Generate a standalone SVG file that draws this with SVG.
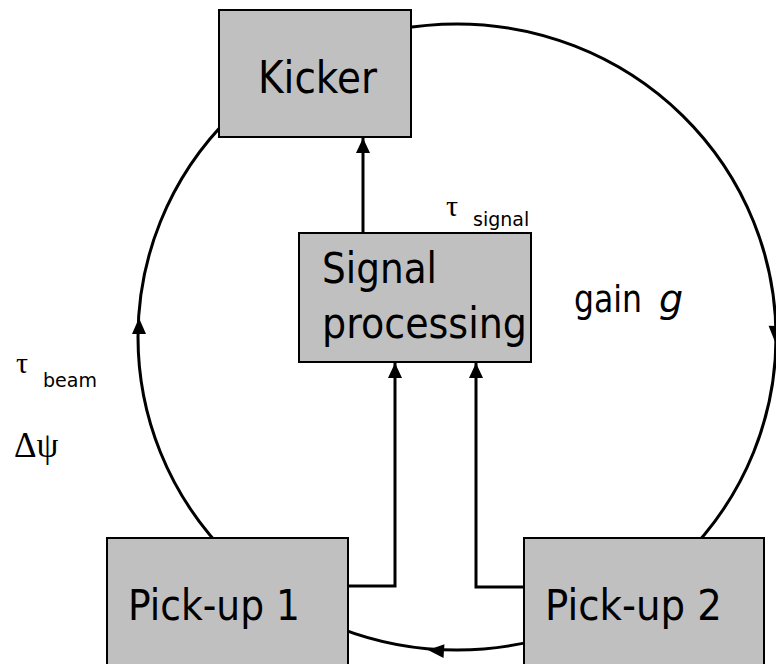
<svg xmlns="http://www.w3.org/2000/svg" xmlns:xlink="http://www.w3.org/1999/xlink" width="776" height="664" viewBox="0 0 776 664">
  <style>
    .box { fill: #C0C0C0; stroke: #000; stroke-width: 2; }
    .lbl { font-family: "DejaVu Sans", "Noto Sans", sans-serif; fill: #000; }
    .sym { font-family: "Liberation Serif", "DejaVu Serif", serif; fill: #000; }
    .ring { fill: none; stroke: #000; stroke-width: 3; }
    .conn { fill: none; stroke: #000; stroke-width: 3; }
  </style>
  <defs>
    <marker id="arr" markerWidth="16" markerHeight="14" refX="15" refY="7" orient="auto" markerUnits="userSpaceOnUse">
      <path d="M0,0 L15,7 L0,14 Z" fill="#000"/>
    </marker>
    <path id="ah" d="M0,0 L-16,-7 L-16,7 Z" fill="#000"/>
  </defs>

  <g id="beam-orbit">
    <ellipse class="ring" cx="457" cy="337" rx="319" ry="313"/>
    <use xlink:href="#ah" transform="translate(139,318) rotate(-90)"/>
    <use xlink:href="#ah" transform="translate(775,342) rotate(92)"/>
    <use xlink:href="#ah" transform="translate(428,650) rotate(184)"/>
  </g>

  <g id="kicker">
    <rect class="box" x="219" y="10" width="192" height="127"/>
    <text class="lbl" x="258" y="93" font-size="44" textLength="119" lengthAdjust="spacingAndGlyphs">Kicker</text>
  </g>

  <g id="signal-processing">
    <rect class="box" x="299" y="233" width="232" height="129"/>
    <text class="lbl" x="322" y="283" font-size="43" textLength="115" lengthAdjust="spacingAndGlyphs">Signal</text>
    <text class="lbl" x="322" y="338" font-size="43" textLength="205" lengthAdjust="spacingAndGlyphs">processing</text>
  </g>

  <g id="pickup1">
    <rect class="box" x="107" y="538" width="241" height="130"/>
    <text class="lbl" x="128" y="620" font-size="42" textLength="172" lengthAdjust="spacingAndGlyphs">Pick-up 1</text>
  </g>

  <g id="pickup2">
    <rect class="box" x="524" y="538" width="240" height="130"/>
    <text class="lbl" x="545" y="620" font-size="42" textLength="177" lengthAdjust="spacingAndGlyphs">Pick-up 2</text>
  </g>

  <g id="connectors">
    <path class="conn" d="M363,233 L363,138" marker-end="url(#arr)"/>
    <path class="conn" d="M348,586 L395,586 L395,363" marker-end="url(#arr)"/>
    <path class="conn" d="M524,587 L476,587 L476,363" marker-end="url(#arr)"/>
  </g>

  <g id="labels">
    <text class="sym" x="446" y="216" font-size="30">τ</text>
    <text class="lbl" x="473" y="226" font-size="19">signal</text>
    <text class="lbl" x="574" y="312" font-size="38" textLength="68" lengthAdjust="spacingAndGlyphs">gain</text>
    <text class="lbl" x="659" y="312" font-size="38" font-style="italic">g</text>
    <text class="sym" x="16" y="373" font-size="30">τ</text>
    <text class="lbl" x="43" y="387" font-size="19">beam</text>
    <text class="sym" x="14" y="457" font-size="35">Δψ</text>
  </g>
</svg>
